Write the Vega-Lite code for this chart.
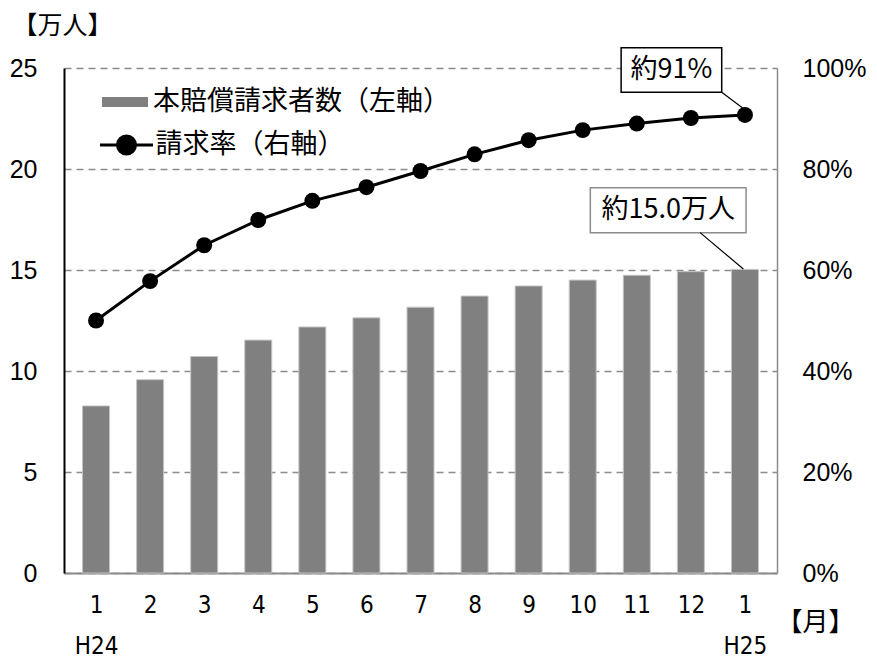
{
  "$schema": "https://vega.github.io/schema/vega-lite/v6.json",
  "width": 713,
  "height": 505,
  "autosize": "none",
  "padding": {"left": 64, "top": 68, "right": 100, "bottom": 87},
  "background": "white",
  "config": {"view": {"stroke": null}, "font": "Liberation Sans"},
  "datasets": {
    "main": [
      {"pos": 0.5, "count": 8.27, "rate": 0.500},
      {"pos": 1.5, "count": 9.57, "rate": 0.578},
      {"pos": 2.5, "count": 10.72, "rate": 0.649},
      {"pos": 3.5, "count": 11.53, "rate": 0.699},
      {"pos": 4.5, "count": 12.18, "rate": 0.737},
      {"pos": 5.5, "count": 12.63, "rate": 0.764},
      {"pos": 6.5, "count": 13.16, "rate": 0.796},
      {"pos": 7.5, "count": 13.71, "rate": 0.829},
      {"pos": 8.5, "count": 14.21, "rate": 0.857},
      {"pos": 9.5, "count": 14.50, "rate": 0.877},
      {"pos": 10.5, "count": 14.74, "rate": 0.890},
      {"pos": 11.5, "count": 14.92, "rate": 0.901},
      {"pos": 12.5, "count": 15.03, "rate": 0.907}
    ],
    "countBox": [{"pos": 9.64, "pos2": 12.52, "count": 16.85, "count2": 19.07}],
    "countLead": [{"pos": 11.67, "pos2": 12.47, "count": 16.85, "count2": 15.05}],
    "countText": [{"pos": 11.08, "count": 17.96, "label": "約15.0万人"}],
    "rateBox": [{"pos": 10.21, "pos2": 12.07, "rate": 0.952, "rate2": 1.040}],
    "rateLead": [{"pos": 12.07, "pos2": 12.47, "rate": 0.952, "rate2": 0.92}],
    "rateText": [{"pos": 11.14, "rate": 0.996, "label": "約91%"}]
  },
  "layer": [
    {
      "layer": [
        {
          "data": {"name": "main"},
          "mark": {"type": "bar", "width": 27, "fill": "#808080", "stroke": "#c4c4c4", "strokeWidth": 1},
          "encoding": {
            "x": {
              "field": "pos", "type": "quantitative",
              "scale": {"domain": [0, 13], "nice": false, "zero": false},
              "axis": {
                "values": [0.5, 1.5, 2.5, 3.5, 4.5, 5.5, 6.5, 7.5, 8.5, 9.5, 10.5, 11.5, 12.5],
                "labelExpr": "datum.value < 1 ? ['1', 'H24'] : datum.value > 12 ? ['1', 'H25'] : '' + (floor(datum.value) + 1)",
                "labelFont": "Liberation Sans Narrow, DejaVu Sans Condensed, sans-serif",
                "labelFontSize": 24,
                "labelColor": "black",
                "labelPadding": 20,
                "labelLineHeight": 41,
                "labelBaseline": "top",
                "labelOverlap": false,
                "labelFlush": false,
                "ticks": false,
                "grid": false,
                "domainColor": "#8c8c8c",
                "domainWidth": 2,
                "title": "【月】",
                "titleFont": "Noto Sans CJK JP",
                "titleFontSize": 26,
                "titleFontWeight": "normal",
                "titleColor": "black",
                "titleX": 751,
                "titleY": 49,
                "titleAlign": "center",
                "titleBaseline": "middle"
              }
            },
            "y": {
              "field": "count", "type": "quantitative",
              "scale": {"domain": [0, 25], "nice": false},
              "axis": {
                "orient": "left",
                "values": [0, 5, 10, 15, 20, 25],
                "grid": true,
                "gridDash": [7, 5],
                "gridColor": "#8c8c8c",
                "gridWidth": 1.5,
                "ticks": false,
                "domainColor": "black",
                "domainWidth": 2,
                "labelFont": "Liberation Sans",
                "labelFontSize": 25,
                "labelColor": "black",
                "labelPadding": 27,
                "title": "【万人】",
                "titleFont": "Noto Sans CJK JP",
                "titleFontSize": 25,
                "titleFontWeight": "normal",
                "titleColor": "black",
                "titleAngle": 0,
                "titleX": -52,
                "titleY": -43,
                "titleAlign": "left",
                "titleBaseline": "middle"
              }
            },
            "fill": {
              "datum": "本賠償請求者数（左軸）",
              "scale": {"range": ["#808080"]},
              "legend": {
                "orient": "none",
                "legendX": 38,
                "legendY": 11,
                "title": null,
                "padding": 0,
                "symbolType": "M-1,-0.217H1V0.217H-1Z",
                "symbolSize": 2116,
                "symbolStrokeWidth": 0,
                "symbolFillColor": "#808080",
                "labelFont": "Noto Sans CJK JP",
                "labelFontSize": 27,
                "labelColor": "black",
                "labelOffset": 5,
                "labelLimit": 500
              }
            }
          }
        },
        {
          "data": {"name": "countBox"},
          "mark": {"type": "rect", "fill": "white", "stroke": "#8c8c8c", "strokeWidth": 1.5},
          "encoding": {
            "x": {"field": "pos", "type": "quantitative"},
            "x2": {"field": "pos2"},
            "y": {"field": "count", "type": "quantitative"},
            "y2": {"field": "count2"}
          }
        },
        {
          "data": {"name": "countLead"},
          "mark": {"type": "rule", "stroke": "black", "strokeWidth": 1.2},
          "encoding": {
            "x": {"field": "pos", "type": "quantitative"},
            "x2": {"field": "pos2"},
            "y": {"field": "count", "type": "quantitative"},
            "y2": {"field": "count2"}
          }
        },
        {
          "data": {"name": "countText"},
          "mark": {"type": "text", "font": "Noto Sans CJK JP", "fontSize": 27, "color": "black", "align": "center", "baseline": "middle"},
          "encoding": {
            "x": {"field": "pos", "type": "quantitative"},
            "y": {"field": "count", "type": "quantitative"},
            "text": {"field": "label"}
          }
        }
      ]
    },
    {
      "layer": [
        {
          "data": {"name": "main"},
          "mark": {"type": "line", "strokeWidth": 3, "color": "black"},
          "encoding": {
            "x": {"field": "pos", "type": "quantitative"},
            "y": {
              "field": "rate", "type": "quantitative",
              "scale": {"domain": [0, 1], "nice": false},
              "axis": {
                "orient": "right",
                "values": [0, 0.2, 0.4, 0.6, 0.8, 1],
                "format": ".0%",
                "grid": false,
                "ticks": false,
                "domainColor": "#8c8c8c",
                "domainWidth": 1.5,
                "labelFont": "Liberation Sans",
                "labelFontSize": 25,
                "labelColor": "black",
                "labelPadding": 25,
                "title": null
              }
            },
            "stroke": {
              "datum": "請求率（右軸）",
              "scale": {"range": ["black"]},
              "legend": {
                "orient": "none",
                "legendX": 34.5,
                "legendY": 49,
                "title": null,
                "padding": 0,
                "symbolType": "M-1,0H1M-0.34,0A0.34,0.34,0,1,0,0.34,0A0.34,0.34,0,1,0,-0.34,0Z",
                "symbolSize": 2809,
                "symbolStrokeWidth": 3,
                "symbolStrokeColor": "black",
                "symbolFillColor": "black",
                "labelFont": "Noto Sans CJK JP",
                "labelFontSize": 27,
                "labelColor": "black",
                "labelOffset": 1,
                "labelLimit": 500
              }
            }
          }
        },
        {
          "data": {"name": "main"},
          "mark": {"type": "point", "filled": true, "size": 255, "color": "black", "opacity": 1},
          "encoding": {
            "x": {"field": "pos", "type": "quantitative"},
            "y": {"field": "rate", "type": "quantitative"}
          }
        },
        {
          "data": {"name": "rateLead"},
          "mark": {"type": "rule", "stroke": "black", "strokeWidth": 1.2},
          "encoding": {
            "x": {"field": "pos", "type": "quantitative"},
            "x2": {"field": "pos2"},
            "y": {"field": "rate", "type": "quantitative"},
            "y2": {"field": "rate2"}
          }
        },
        {
          "data": {"name": "rateBox"},
          "mark": {"type": "rect", "fill": "white", "stroke": "black", "strokeWidth": 1.5},
          "encoding": {
            "x": {"field": "pos", "type": "quantitative"},
            "x2": {"field": "pos2"},
            "y": {"field": "rate", "type": "quantitative"},
            "y2": {"field": "rate2"}
          }
        },
        {
          "data": {"name": "rateText"},
          "mark": {"type": "text", "font": "Noto Sans CJK JP", "fontSize": 27, "color": "black", "align": "center", "baseline": "middle"},
          "encoding": {
            "x": {"field": "pos", "type": "quantitative"},
            "y": {"field": "rate", "type": "quantitative"},
            "text": {"field": "label"}
          }
        }
      ]
    }
  ],
  "resolve": {"scale": {"y": "independent", "fill": "independent", "stroke": "independent"}}
}
